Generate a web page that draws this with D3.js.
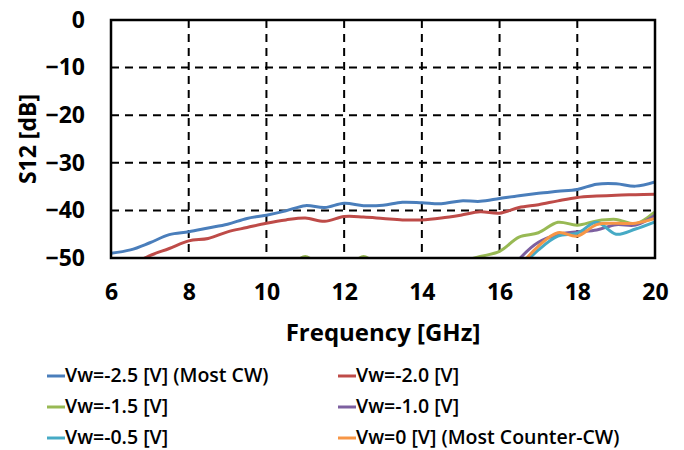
<!DOCTYPE html>
<html>
<head>
<meta charset="utf-8">
<script src="https://cdn.jsdelivr.net/npm/d3@7/dist/d3.min.js"></script>
<style>
  body { margin: 0; background: #fff; }
  svg { font-family: "Open Sans", sans-serif; }
</style>
</head>
<body>
<svg width="684" height="450"></svg>
<script>
// frequency points (GHz)
var freq = [6, 6.5, 7, 7.5, 8, 8.5, 9, 9.5, 10, 10.5, 11, 11.5, 12, 12.5, 13, 13.5,
            14, 14.5, 15, 15.5, 16, 16.5, 17, 17.5, 18, 18.5, 19, 19.5, 20];

// S12 [dB] per bias (values under -50 are cut off by the axis)
var vw_m25 = [-49.0, -48.3, -46.8, -45.1, -44.5, -43.7, -42.9, -41.7, -41.0, -40.1, -39.0, -39.4, -38.5, -39.0, -38.9, -38.3,
              -38.4, -38.6, -38.0, -38.1, -37.5, -36.9, -36.4, -36.0, -35.6, -34.5, -34.4, -34.9, -34.0];
var vw_m20 = [-53.0, -51.5, -49.5, -48.0, -46.4, -45.9, -44.5, -43.6, -42.7, -42.0, -41.6, -42.3, -41.3, -41.4, -41.7, -42.0,
              -42.0, -41.6, -41.0, -40.3, -40.6, -39.4, -38.8, -38.0, -37.3, -37.0, -36.8, -36.7, -36.6];
var vw_m15 = [-56, -56, -56, -56, -56, -56, -56, -56, -55, -52.5, -49.7, -52.5, -52.5, -49.7, -52.5, -54,
              -54, -52.5, -50.8, -49.7, -48.6, -45.6, -44.7, -42.5, -43.1, -42.2, -41.9, -42.8, -40.3];
var vw_m10 = [-60, -60, -60, -60, -60, -60, -60, -60, -60, -60, -60, -60, -60, -60, -60, -60,
              -60, -60, -60, -60, -56, -50.3, -46.7, -45.1, -44.5, -44.1, -43.0, -43.1, -41.0];
var vw_m05 = [-60, -60, -60, -60, -60, -60, -60, -60, -60, -60, -60, -60, -60, -60, -60, -60,
              -60, -60, -60, -60, -58, -52.5, -48.3, -45.4, -44.8, -42.5, -45.0, -43.9, -42.4];
var vw_0 = [-60, -60, -60, -60, -60, -60, -60, -60, -60, -60, -60, -60, -60, -60, -60, -60,
            -60, -60, -60, -60, -58, -52, -47.5, -44.7, -45.4, -43.0, -42.7, -42.7, -41.7];

var names = ['Vw=-2.5 [V] (Most CW)', 'Vw=-2.0 [V]', 'Vw=-1.5 [V]', 'Vw=-1.0 [V]',
             'Vw=-0.5 [V]', 'Vw=0 [V] (Most Counter-CW)'];
var colors = ['#4A7EBB', '#BE4B48', '#98B954', '#7D60A0', '#46AAC5', '#F79646'];
var xTicks = [6, 8, 10, 12, 14, 16, 18, 20];
var yTicks = [0, -10, -20, -30, -40, -50];

var series = [vw_m25, vw_m20, vw_m15, vw_m10, vw_m05, vw_0];

var svg = d3.select('svg');
var pLeft = 111, pRight = 655, pTop = 20, pBottom = 258;

var x = d3.scaleLinear().domain([6, 20]).range([pLeft, pRight]);
var y = d3.scaleLinear().domain([-50, 0]).range([pBottom, pTop]);

// grid
svg.append('g').selectAll('line').data(yTicks.slice(1, 5))
    .enter().append('line')
        .attr('x1', pLeft).attr('x2', pRight)
        .attr('y1', function(d){ return y(d); })
        .attr('y2', function(d){ return y(d); })
        .attr('stroke', '#000').attr('stroke-width', 2)
        .attr('stroke-dasharray', '8,6');
svg.append('g').selectAll('line').data(xTicks.slice(1, 7))
    .enter().append('line')
        .attr('y1', pTop).attr('y2', pBottom)
        .attr('x1', function(d){ return x(d); })
        .attr('x2', function(d){ return x(d); })
        .attr('stroke', '#000').attr('stroke-width', 2)
        .attr('stroke-dasharray', '8,6');

svg.append('clipPath').attr('id', 'plot')
    .append('rect')
        .attr('x', pLeft).attr('y', pTop - 2)
        .attr('width', pRight - pLeft).attr('height', pBottom - pTop + 1);

var line = d3.line()
    .x(function(d){ return x(d[0]); })
    .y(function(d){ return y(d[1]); })
    .curve(d3.curveCatmullRom.alpha(0.5));

svg.append('g').attr('clip-path', 'url(#plot)')
    .selectAll('path').data(series)
    .enter().append('path')
        .attr('d', function(s){
            return line(s.map(function(v, i){ return [freq[i], v]; }));
        })
        .attr('fill', 'none')
        .attr('stroke', function(s, i){ return colors[i]; })
        .attr('stroke-width', 3)
        .attr('stroke-linejoin', 'round');

// frame
svg.append('rect')
    .attr('x', pLeft).attr('y', pTop)
    .attr('width', pRight - pLeft).attr('height', pBottom - pTop)
    .attr('fill', 'none').attr('stroke', '#000').attr('stroke-width', 2.5);

// axes
var xAxis = svg.append('g').attr('transform', 'translate(0,' + pBottom + ')')
    .call(d3.axisBottom(x).tickValues(xTicks).tickSize(0).tickPadding(26));
var yAxis = svg.append('g').attr('transform', 'translate(' + pLeft + ',0)')
    .call(d3.axisLeft(y).tickValues(yTicks).tickSize(0).tickPadding(26));
[xAxis, yAxis].forEach(function(a){
    a.select('.domain').remove();
    a.selectAll('text')
        .attr('font-family', '"Open Sans", sans-serif')
        .attr('font-size', 23).attr('font-weight', 'bold').attr('fill', '#000');
});

svg.append('text')
    .attr('x', 383).attr('y', 341)
    .attr('text-anchor', 'middle')
    .attr('font-size', 24).attr('font-weight', 'bold')
    .text('Frequency [GHz]');

svg.append('text')
    .attr('transform', 'translate(36,' + ((pTop + pBottom) / 2) + ') rotate(-90)')
    .attr('text-anchor', 'middle')
    .attr('font-size', 23).attr('font-weight', 'bold')
    .text('S12 [dB]');

// legend
var leg = svg.append('g').selectAll('g').data(names)
    .enter().append('g')
        .attr('transform', function(d, i){
            return 'translate(' + (i % 2 ? 338 : 47) + ',' + (376 + Math.floor(i / 2) * 31) + ')';
        });
leg.append('line')
    .attr('x1', 0).attr('x2', 18).attr('y1', 0).attr('y2', 0)
    .attr('stroke', function(d, i){ return colors[i]; })
    .attr('stroke-width', 3);
leg.append('text')
    .attr('x', 18).attr('y', 6)
    .attr('font-size', 19.5).attr('font-weight', 600)
    .text(function(d){ return d; });
</script>
</body>
</html>
